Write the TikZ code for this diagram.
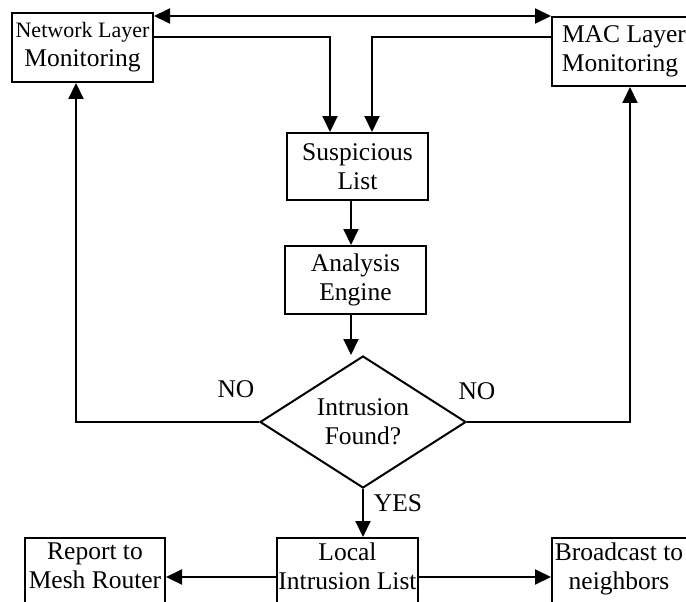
\documentclass[tikz,border=0pt]{standalone}
\usepackage{fontspec}
\setmainfont{Liberation Serif}
\usetikzlibrary{arrows.meta,shapes.geometric}
\begin{document}
\begin{tikzpicture}[x=1pt,y=-1pt,
  every node/.style={font=\fontsize{25.5}{29}\selectfont},
  box/.style={draw,line width=2pt,align=center,inner sep=1pt,minimum width=141pt},
  dec/.style={draw,diamond,line width=2pt,align=center,inner sep=0pt,aspect=1.56,minimum width=206pt,minimum height=132pt},
  conn/.style={line width=2pt,-{Triangle[length=16pt,width=15pt]}},
  lbl/.style={inner sep=0pt}]
\useasboundingbox (0,0) rectangle (686,602);
\clip (0,0) rectangle (686,602);
\node[box,minimum height=69pt] (net) at (82.5,47.5) {{\fontsize{22}{26}\selectfont Network Layer}\\Monitoring};
\node[box,minimum width=148pt,minimum height=69pt] (mac) at (626,51.5) {MAC Layer\hspace*{4pt}\\Monitoring\hspace*{12pt}};
\node[box,minimum height=67pt] (sus) at (357.5,166.5) {Suspicious\\List};
\node[box,minimum height=68pt] (ana) at (355.5,280) {Analysis\\Engine};
\node[dec] (dia) at (363,422) {Intrusion\\Found?};
\node[box,minimum height=72pt] (loc) at (347.5,574) {Local\\Intrusion List\rule[-16pt]{0pt}{0pt}};
\node[box,minimum width=140pt,minimum height=72pt] (rep) at (95,574) {Report to\\Mesh Router\rule[-16pt]{0pt}{0pt}};
\node[box,minimum width=148pt,minimum height=72pt] (bro) at (626,574) {Broadcast to\hspace*{14pt}\\neighbors\hspace*{14pt}\rule[-16pt]{0pt}{0pt}};
\draw[line width=2pt,{Triangle[length=16pt,width=15pt]}-{Triangle[length=16pt,width=15pt]}] ([yshift=-4pt]net.north east) -- (mac.north west);
\draw[conn] ([yshift=-25pt]net.north east) -| ([xshift=-27.5pt]sus.north);
\draw[conn] ([yshift=-21pt]mac.north west) -| ([xshift=14.5pt]sus.north);
\draw[conn] ([xshift=-6.5pt]sus.south) -- ([xshift=-4.5pt]ana.north);
\draw[conn] ([xshift=-4.5pt]ana.south) -- ([xshift=-4.5pt]ana.south |- dia.north);
\draw[conn] (dia.west) -| ([xshift=-6.5pt]net.south);
\draw[conn] (dia.east) -| ([xshift=4pt]mac.south);
\draw[conn] (dia.south) -- ([xshift=15.5pt]loc.north);
\draw[conn] ([yshift=-3pt]loc.west) -- ([yshift=-3pt]rep.east);
\draw[conn] ([yshift=-3pt]loc.east) -- ([yshift=-3pt]bro.west);
\node[lbl] (no1) at (236,389) {NO};
\node[lbl] (no2) at (477,391) {NO};
\node[lbl] (yes) at (398,503) {YES};
\end{tikzpicture}
\end{document}
